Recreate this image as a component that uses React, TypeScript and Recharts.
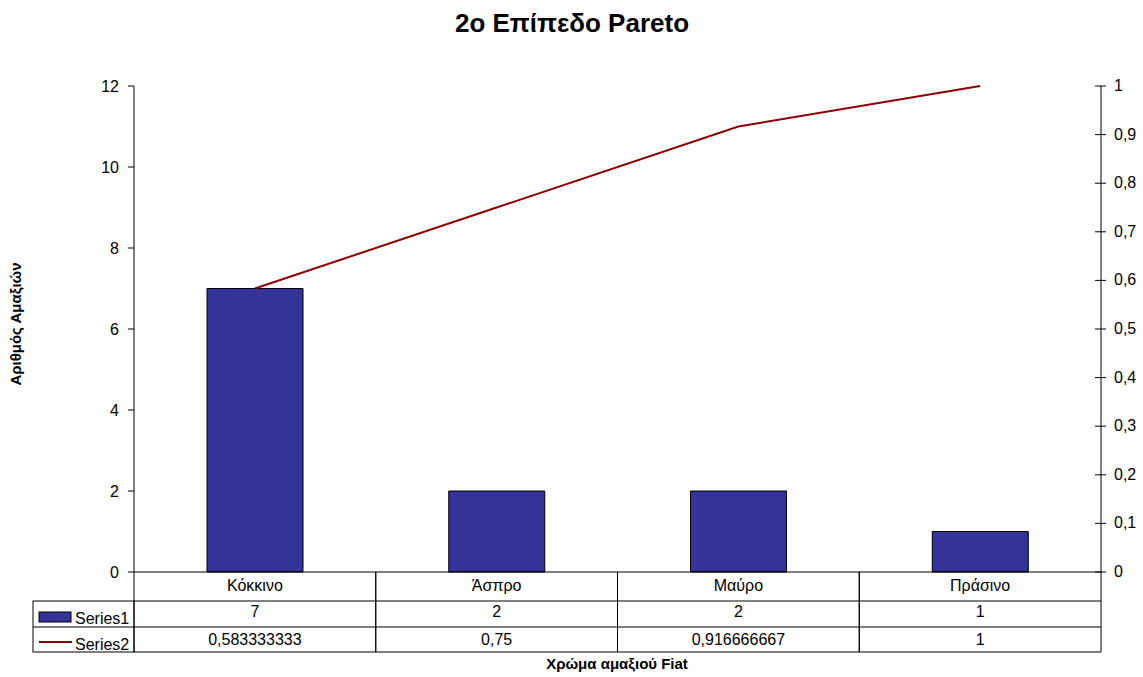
import React from 'react';
import { ComposedChart, Bar, Line, XAxis, YAxis } from 'recharts';

const categories = ['Κόκκινο', 'Άσπρο', 'Μαύρο', 'Πράσινο'];
const series1 = [7, 2, 2, 1];
const series2 = [0.583333333, 0.75, 0.916666667, 1];
const leftTicks = [0, 2, 4, 6, 8, 10, 12];
const rightTicks = [0, 0.1, 0.2, 0.3, 0.4, 0.5, 0.6, 0.7, 0.8, 0.9, 1];

const W = 1143;
const H = 677;
const LEFT = 134;
const RIGHT = 42;
const TOP = 86;
const BOTTOM = 105;
const BAND = (W - LEFT - RIGHT) / categories.length;
const FONT = '"Liberation Sans", Arial, sans-serif';
const BAR_COLOR = '#333399';
const LINE_COLOR = '#8B0000';

const data = categories.map((name, i) => ({ name, series1: series1[i], series2: series2[i] }));

const fmt = (v: number) => String(v).replace('.', ',');

// each x tick draws its column of the data table under the plot
const TableTick = (props: any) => {
  const { x, y, index } = props;
  const l = x - BAND / 2;
  const r = x + BAND / 2;
  return (
    <g fontFamily={FONT} fontSize={16} fill="#000">
      <line x1={l} y1={y} x2={l} y2={y + 80} stroke="#000" />
      <line x1={r} y1={y} x2={r} y2={y + 80} stroke="#000" />
      <line x1={l} y1={y + 29} x2={r} y2={y + 29} stroke="#000" />
      <line x1={l} y1={y + 55} x2={r} y2={y + 55} stroke="#000" />
      <line x1={l} y1={y + 80} x2={r} y2={y + 80} stroke="#000" />
      <text x={x} y={y + 19} textAnchor="middle">{categories[index]}</text>
      <text x={x} y={y + 45} textAnchor="middle">{series1[index]}</text>
      <text x={x} y={y + 73} textAnchor="middle">{fmt(series2[index])}</text>
      {index === 0 && (
        <g>
          <rect x={33} y={y + 29} width={l - 33} height={51} fill="none" stroke="#000" />
          <line x1={33} y1={y + 55} x2={l} y2={y + 55} stroke="#000" />
          <rect x={39} y={y + 40} width={32} height={10} fill={BAR_COLOR} stroke="#000" />
          <text x={75} y={y + 52}>Series1</text>
          <line x1={39} y1={y + 70} x2={72} y2={y + 70} stroke={LINE_COLOR} strokeWidth={2} />
          <text x={75} y={y + 78}>Series2</text>
        </g>
      )}
    </g>
  );
};

const RightTick = (props: any) => {
  const { x, y, payload } = props;
  return (
    <g>
      <line x1={x - 6} y1={y} x2={x + 5} y2={y} stroke="#000" />
      <text x={x + 13} y={y + 5} fontFamily={FONT} fontSize={16} fill="#000">{fmt(payload.value)}</text>
    </g>
  );
};

export default function App() {
  return (
    <div style={{ position: 'absolute', left: 0, top: 0, width: W, height: H, background: '#fff', fontFamily: FONT }}>
      <ComposedChart width={W} height={H} data={data} margin={{ top: TOP, right: 0, left: 0, bottom: 0 }}>
        <XAxis
          dataKey="name"
          height={BOTTOM}
          axisLine={{ stroke: '#000' }}
          tickLine={false}
          tickSize={0}
          tickMargin={0}
          interval={0}
          tick={(p: any) => <TableTick {...p} />}
        />
        <YAxis
          yAxisId="left"
          width={LEFT}
          domain={[0, 12]}
          ticks={leftTicks}
          axisLine={{ stroke: '#000' }}
          tickLine={{ stroke: '#000' }}
          tickSize={6}
          tickMargin={9}
          tick={{ fontSize: 16, fill: '#000', fontFamily: FONT }}
        />
        <YAxis
          yAxisId="right"
          orientation="right"
          width={RIGHT}
          domain={[0, 1]}
          ticks={rightTicks}
          axisLine={{ stroke: '#000' }}
          tickLine={false}
          tickSize={0}
          tickMargin={0}
          tick={(p: any) => <RightTick {...p} />}
        />
        <Bar yAxisId="left" dataKey="series1" barSize={96} fill={BAR_COLOR} stroke="#000" strokeWidth={1} isAnimationActive={false} />
        <Line yAxisId="right" dataKey="series2" type="linear" stroke={LINE_COLOR} strokeWidth={2} dot={false} activeDot={false} isAnimationActive={false} />
      </ComposedChart>
      <svg width={W} height={H} style={{ position: 'absolute', left: 0, top: 0, pointerEvents: 'none' }}>
        <text x={572} y={32} textAnchor="middle" fontFamily={FONT} fontSize={26} fontWeight="bold">2ο Επίπεδο Pareto</text>
        <text x={617} y={669} textAnchor="middle" fontFamily={FONT} fontSize={15} fontWeight="bold">Χρώμα αμαξιού Fiat</text>
        <text x={21} y={324} textAnchor="middle" fontFamily={FONT} fontSize={15} fontWeight="bold" transform="rotate(-90 21 324)">Αριθμός Αμαξιών</text>
      </svg>
    </div>
  );
}
